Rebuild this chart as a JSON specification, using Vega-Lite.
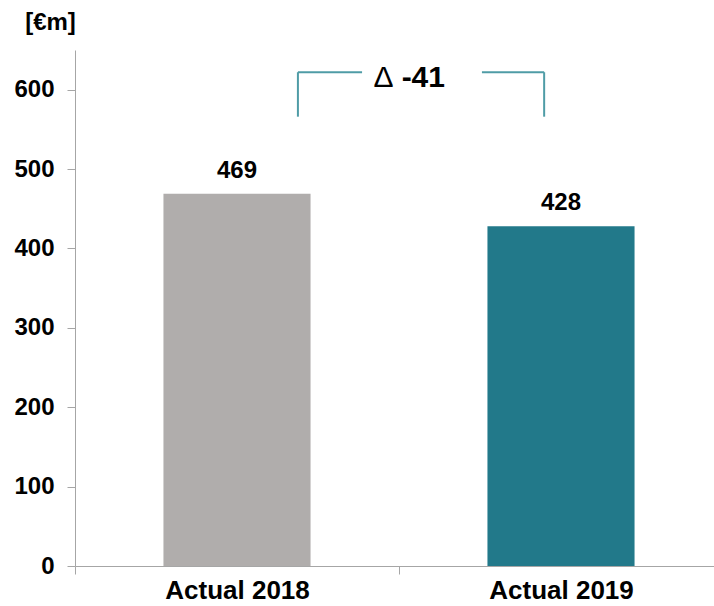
{
  "$schema": "https://vega.github.io/schema/vega-lite/v6.json",
  "width": 648,
  "height": 516,
  "autosize": "none",
  "padding": {"left": 75, "top": 50, "right": 0, "bottom": 40},
  "config": {"view": {"stroke": null}, "font": "Liberation Sans"},
  "datasets": {
    "bars": [
      {"category": "Actual 2018", "value": 469},
      {"category": "Actual 2019", "value": 428}
    ],
    "bracket": [
      {"x": 0.688, "x2": 0.886, "y": 622, "y2": 622},
      {"x": 1.256, "x2": 1.448, "y": 622, "y2": 622},
      {"x": 0.688, "x2": 0.688, "y": 566, "y2": 622},
      {"x": 1.448, "x2": 1.448, "y": 566, "y2": 622}
    ],
    "deltaSymbol": [
      {"x": 0.952, "y": 604, "label": "Δ"}
    ],
    "deltaValue": [
      {"x": 1.075, "y": 604, "label": "-41"}
    ]
  },
  "layer": [
    {
      "data": {"name": "bars"},
      "encoding": {
        "x": {
          "field": "category",
          "type": "nominal",
          "scale": {"paddingInner": 0, "paddingOuter": 0},
          "axis": {
            "title": null,
            "labelAngle": 0,
            "labelFontSize": 26,
            "labelFontWeight": "bold",
            "labelColor": "#000000",
            "labelPadding": 3,
            "labelBaseline": "top",
            "tickBand": "extent",
            "tickSize": 8,
            "tickColor": "#a6a6a6",
            "domainColor": "#a6a6a6"
          }
        },
        "y": {
          "field": "value",
          "type": "quantitative",
          "scale": {"domain": [0, 650], "nice": false},
          "axis": {
            "values": [0, 100, 200, 300, 400, 500, 600],
            "grid": false,
            "title": "[€m]",
            "titleAngle": 0,
            "titleX": -25,
            "titleY": -28,
            "titleAlign": "center",
            "titleBaseline": "middle",
            "titleFontSize": 24,
            "titleFontWeight": "bold",
            "titleColor": "#000000",
            "labelFontSize": 24,
            "labelFontWeight": "bold",
            "labelColor": "#000000",
            "labelPadding": 13,
            "tickSize": 8,
            "tickColor": "#a6a6a6",
            "domainColor": "#a6a6a6"
          }
        }
      },
      "layer": [
        {
          "mark": {"type": "bar", "width": {"band": 0.454}},
          "encoding": {
            "color": {
              "field": "category",
              "type": "nominal",
              "scale": {"domain": ["Actual 2018", "Actual 2019"], "range": ["#b0adac", "#22798a"]},
              "legend": null
            }
          }
        },
        {
          "mark": {"type": "text", "baseline": "alphabetic", "dy": -16, "fontSize": 24, "fontWeight": "bold", "color": "#000000"},
          "encoding": {"text": {"field": "value", "type": "quantitative"}}
        }
      ]
    },
    {
      "data": {"name": "bracket"},
      "mark": {"type": "rule", "color": "#4f9ca6", "strokeWidth": 2},
      "encoding": {
        "x": {"field": "x", "type": "quantitative", "scale": {"domain": [0, 2], "nice": false}, "axis": null},
        "x2": {"field": "x2"},
        "y": {"field": "y", "type": "quantitative"},
        "y2": {"field": "y2"}
      }
    },
    {
      "data": {"name": "deltaSymbol"},
      "mark": {"type": "text", "baseline": "alphabetic", "fontSize": 30, "fontWeight": "normal", "color": "#000000"},
      "encoding": {
        "x": {"field": "x", "type": "quantitative", "scale": {"domain": [0, 2], "nice": false}, "axis": null},
        "y": {"field": "y", "type": "quantitative"},
        "text": {"field": "label"}
      }
    },
    {
      "data": {"name": "deltaValue"},
      "mark": {"type": "text", "baseline": "alphabetic", "fontSize": 30, "fontWeight": "bold", "color": "#000000"},
      "encoding": {
        "x": {"field": "x", "type": "quantitative", "scale": {"domain": [0, 2], "nice": false}, "axis": null},
        "y": {"field": "y", "type": "quantitative"},
        "text": {"field": "label"}
      }
    }
  ],
  "resolve": {"scale": {"x": "independent"}}
}
